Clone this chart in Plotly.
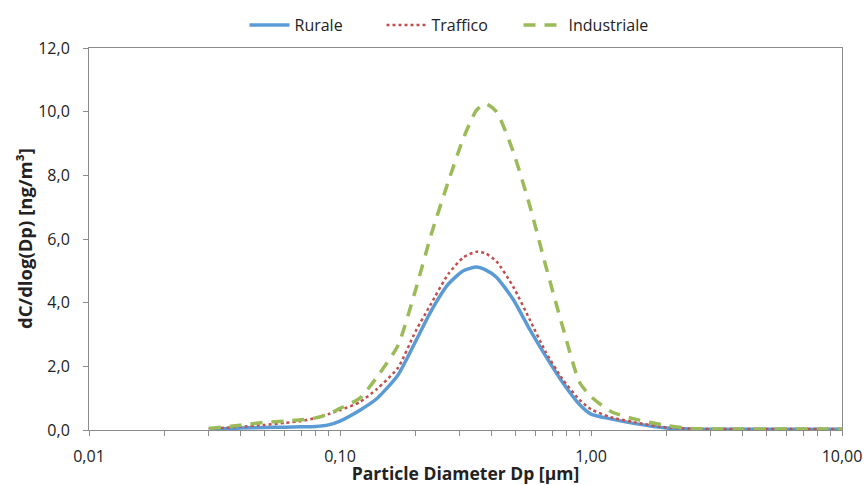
import plotly.graph_objects as go

# Particle diameter Dp [µm] (shared by all series)
diameter = [0.03, 0.035, 0.04, 0.05, 0.06, 0.07, 0.08, 0.09, 0.10, 0.12, 0.14, 0.17,
            0.20, 0.23, 0.27, 0.31, 0.35, 0.38, 0.42, 0.49, 0.57, 0.66, 0.77, 0.90,
            1.00, 1.20, 1.50, 2.00, 2.50, 3.00, 4.00, 5.00, 6.50, 8.00, 10.0]

# dC/dlog(Dp) [ng/m³] per site type
rurale = [0.02, 0.04, 0.06, 0.08, 0.09, 0.10, 0.11, 0.16, 0.28, 0.62, 0.98, 1.72,
          2.78, 3.72, 4.58, 5.00, 5.12, 5.03, 4.80, 4.10, 3.16, 2.32, 1.50, 0.80,
          0.50, 0.35, 0.20, 0.06, 0.03, 0.02, 0.02, 0.02, 0.02, 0.02, 0.02]
traffico = [0.05, 0.07, 0.10, 0.16, 0.22, 0.28, 0.38, 0.50, 0.62, 0.88, 1.28, 1.95,
            3.10, 3.95, 4.90, 5.42, 5.60, 5.55, 5.30, 4.50, 3.47, 2.45, 1.60, 0.95,
            0.65, 0.40, 0.24, 0.08, 0.04, 0.03, 0.03, 0.03, 0.03, 0.03, 0.03]
industriale = [0.05, 0.10, 0.15, 0.24, 0.28, 0.32, 0.38, 0.50, 0.68, 1.00, 1.65, 2.65,
               4.40, 6.10, 7.80, 9.16, 10.05, 10.25, 10.00, 8.74, 7.05, 5.16, 3.26, 1.50,
               1.05, 0.58, 0.34, 0.14, 0.05, 0.03, 0.03, 0.03, 0.03, 0.03, 0.03]

series_names = ["Rurale", "Traffico", "Industriale"]

# Axis ticks (Italian decimal comma)
x_major = [0.01, 0.1, 1, 10]
x_major_text = ["0,01", "0,10", "1,00", "10,00"]
y_ticks = [0, 2, 4, 6, 8, 10, 12]
y_tick_text = ["0,0", "2,0", "4,0", "6,0", "8,0", "10,0", "12,0"]

# log minor ticks 2..9 in each decade, unlabeled
x_tickvals, x_ticktext = [], []
for i, d in enumerate(x_major):
    x_tickvals.append(d)
    x_ticktext.append(x_major_text[i])
    if d < 10:
        for m in range(2, 10):
            x_tickvals.append(round(d * m, 4))
            x_ticktext.append("")

FONT = "'Open Sans', Lato, sans-serif"
AXIS_COLOR = "#8c8c8c"
W, H = 865, 485
PLOT_W = W - 89 - 23

fig = go.Figure()
fig.add_trace(go.Scatter(x=diameter, y=rurale, name=series_names[0], mode="lines",
                         line=dict(color="#5b9bd5", width=3.5, shape="spline", smoothing=0.6)))
fig.add_trace(go.Scatter(x=diameter, y=traffico, name=series_names[1], mode="lines",
                         line=dict(color="#c0504d", width=2.5, dash="dot", shape="spline", smoothing=0.6)))
fig.add_trace(go.Scatter(x=diameter, y=industriale, name=series_names[2], mode="lines",
                         line=dict(color="#9bbb59", width=3.5, dash="12px,9px", shape="spline", smoothing=0.6)))

fig.update_layout(
    width=W, height=H,
    margin=dict(l=89, r=23, t=48, b=55, autoexpand=False),
    paper_bgcolor="white", plot_bgcolor="white",
    font=dict(family=FONT, size=16, color="#222222"),
    showlegend=True,
    legend=dict(orientation="h", xref="container", yref="container",
                x=450 / W, xanchor="center", y=1 - 25 / H, yanchor="middle",
                font=dict(size=16), itemwidth=40, entrywidth=82, entrywidthmode="pixels",
                bgcolor="rgba(0,0,0,0)"),
    annotations=[dict(
        text="<b>dC/dlog(Dp) [ng/m³]</b>", textangle=-90,
        xref="paper", yref="paper", x=-65 / PLOT_W, y=0.5,
        xanchor="center", yanchor="middle", showarrow=False,
        font=dict(size=18.5),
    )],
)

fig.update_xaxes(
    type="log", range=[-2, 1], automargin=False,
    tickmode="array", tickvals=x_tickvals, ticktext=x_ticktext,
    ticks="outside", ticklen=5, tickcolor=AXIS_COLOR, tickwidth=1,
    ticklabelstandoff=7,
    showline=True, linecolor=AXIS_COLOR, linewidth=1, mirror=True,
    showgrid=False, zeroline=False,
    tickfont=dict(size=16),
    title=dict(text="<b>Particle Diameter Dp [µm]</b>", font=dict(size=17.5)),
)
fig.update_yaxes(
    range=[0, 12], automargin=False,
    tickmode="array", tickvals=y_ticks, ticktext=y_tick_text,
    ticks="outside", ticklen=5, tickcolor=AXIS_COLOR, tickwidth=1,
    ticklabelstandoff=10,
    showline=True, linecolor=AXIS_COLOR, linewidth=1, mirror=True,
    showgrid=False, zeroline=False,
    tickfont=dict(size=16),
)

fig.write_html("out.html")
